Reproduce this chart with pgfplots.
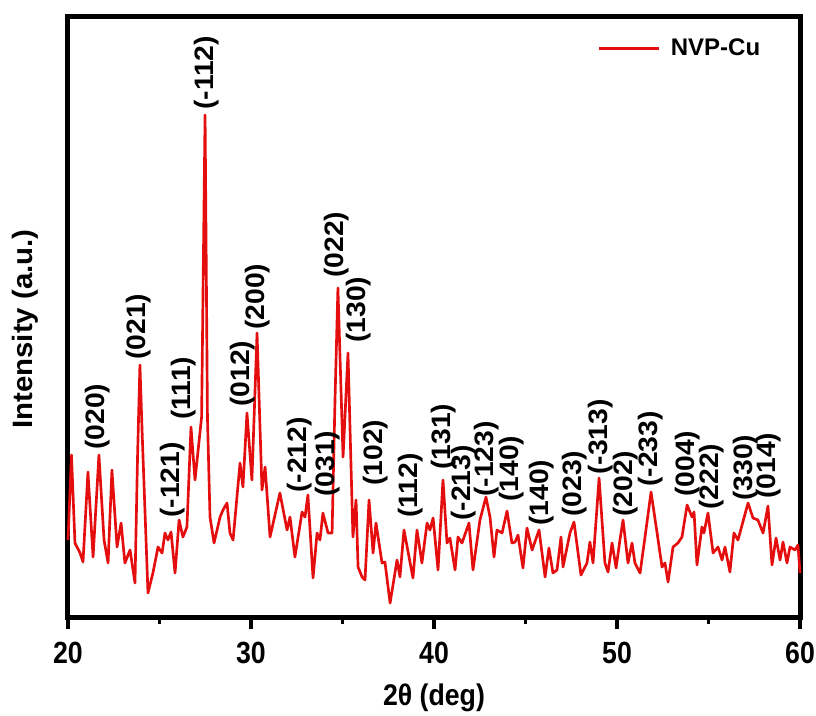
\documentclass[border=0pt]{standalone}
\usepackage{fontspec}
\setmainfont{Liberation Sans}
\usepackage{pgfplots}
\usepackage{pgfplotstable}
\pgfplotsset{compat=1.18}
\definecolor{xrdred}{RGB}{228,14,14}
\tikzset{peak/.style={yscale=1.06, rotate=90, anchor=west, inner sep=0pt, font=\fontsize{20}{21}\selectfont\bfseries}}

\pgfplotstableread{
x I
20.00 77
20.19 162
20.38 74
20.66 64
20.82 55
21.09 145
21.37 60
21.69 162
21.97 77
22.19 54
22.40 147
22.68 70
22.90 94
23.11 54
23.39 67
23.66 34
23.80 160
23.93 252
24.06 180
24.37 24
24.64 44
24.92 70
25.14 64
25.30 84
25.46 77
25.63 85
25.85 44
26.07 97
26.28 80
26.50 90
26.72 190
26.94 137
27.30 200
27.49 502
27.62 200
27.76 100
27.98 74
28.31 100
28.47 107
28.69 114
28.85 84
29.02 77
29.40 154
29.56 130
29.78 204
30.05 137
30.33 284
30.60 127
30.77 150
31.04 80
31.58 124
31.97 87
32.13 100
32.40 60
32.79 105
32.95 100
33.11 122
33.39 39
33.61 84
33.77 77
33.93 104
34.21 84
34.43 84
34.59 217
34.75 329
35.03 160
35.30 264
35.57 80
35.74 117
35.85 50
36.07 40
36.23 37
36.45 117
36.67 64
36.83 94
37.16 54
37.32 55
37.60 14
37.98 57
38.14 40
38.36 87
38.85 39
39.07 87
39.34 54
39.62 94
39.78 87
39.95 99
40.22 47
40.49 137
40.71 74
40.87 79
41.15 47
41.31 80
41.53 74
41.91 94
42.13 47
42.51 97
42.84 120
43.06 100
43.28 60
43.44 87
43.72 84
43.99 106
44.26 74
44.43 75
44.59 82
44.86 49
45.08 89
45.36 67
45.74 87
46.07 40
46.28 69
46.50 44
46.72 47
46.94 80
47.05 50
47.43 84
47.65 95
48.03 42
48.36 54
48.52 75
48.69 54
49.02 139
49.34 54
49.51 45
49.73 74
49.95 49
50.16 77
50.33 97
50.60 54
50.82 74
50.98 54
51.26 44
51.53 80
51.86 125
52.19 84
52.46 50
52.62 54
52.79 35
53.06 70
53.33 74
53.55 80
53.83 112
54.10 100
54.21 105
54.37 52
54.64 90
54.75 84
54.97 104
55.25 64
55.52 70
55.74 57
55.90 70
56.17 45
56.39 84
56.61 77
57.16 114
57.43 99
57.70 97
57.98 84
58.25 111
58.47 52
58.69 79
58.91 57
59.07 75
59.29 54
59.45 70
59.73 67
59.89 72
60.00 44
}\xrd

\begin{document}
\begin{tikzpicture}
\begin{axis}[
  at={(0,0)}, anchor=south west,
  scale only axis, width=549pt, height=450pt,
  xmin=20, xmax=60, ymin=0, ymax=600,
  axis line style={line width=3.75pt},
  xtick={20,30,40,50,60},
  minor xtick={25,35,45,55},
  ytick=\empty,
  xtick pos=bottom, tick align=outside,
  major tick length=9pt, minor tick length=5pt,
  every tick/.style={black, line width=2.5pt},
  /pgf/number format/assume math mode=true,
  xticklabel style={font=\fontsize{20}{24}\selectfont\bfseries, anchor=center, yshift=-18pt, yscale=1.15},
  xlabel={2θ (deg)},
  ylabel={Intensity (a.u.)},
  xlabel style={font=\fontsize{20}{24}\selectfont\bfseries, at={(axis description cs:0.5,-0.135)}, anchor=center, yscale=1.12},
  ylabel style={font=\fontsize{21}{24}\selectfont\bfseries, at={(axis description cs:-0.058,0.48)}, anchor=center,
    rotate=-90, yscale=1.05, rotate=90},
  clip=false,
  legend style={draw=none, fill=none, at={(axis description cs:0.7227,0.948)}, anchor=west,
    inner sep=0pt, nodes={inner sep=0pt}, font=\fontsize{18}{20}\selectfont\bfseries,
    /tikz/every odd column/.append style={column sep=8pt}},
  legend cell align=left,
  legend image code/.code={\draw[line width=2.2pt] (0pt,0pt) -- (45pt,0pt);},
]
\addplot[xrdred, line width=2pt, line join=round] table[x=x, y=I] {\xrd};
\addlegendentry{NVP-Cu}
\node[peak] at (axis cs:21.64,167) {(020)};
\node[peak] at (axis cs:23.88,257) {(021)};
\node[peak] at (axis cs:25.74,99) {(-121)};
\node[peak] at (axis cs:26.31,197) {(111)};
\node[peak] at (axis cs:27.60,507) {(-112)};
\node[peak] at (axis cs:29.56,210) {(012)};
\node[peak] at (axis cs:30.36,287) {(200)};
\node[peak] at (axis cs:32.68,124) {(-212)};
\node[peak] at (axis cs:34.20,120) {(031)};
\node[peak] at (axis cs:34.67,339) {(022)};
\node[peak] at (axis cs:35.90,274) {(130)};
\node[peak] at (axis cs:36.83,131) {(102)};
\node[peak] at (axis cs:38.74,99) {(112)};
\node[peak] at (axis cs:40.55,147) {(131)};
\node[peak] at (axis cs:41.64,96) {(-213)};
\node[peak] at (axis cs:42.90,120) {(-123)};
\node[peak] at (axis cs:44.26,115) {(140)};
\node[peak] at (axis cs:45.90,91) {(140)};
\node[peak] at (axis cs:47.70,100) {(023)};
\node[peak] at (axis cs:49.13,142) {(-313)};
\node[peak] at (axis cs:50.49,100) {(202)};
\node[peak] at (axis cs:51.86,130) {(-233)};
\node[peak] at (axis cs:53.88,120) {(004)};
\node[peak] at (axis cs:55.19,107) {(222)};
\node[peak] at (axis cs:57.05,116) {(330)};
\node[peak] at (axis cs:58.31,118) {(014)};
\end{axis}
\pgfresetboundingbox
\path[use as bounding box] (-51pt,-73.5pt) rectangle (561pt,462.75pt);
\end{tikzpicture}
\end{document}
